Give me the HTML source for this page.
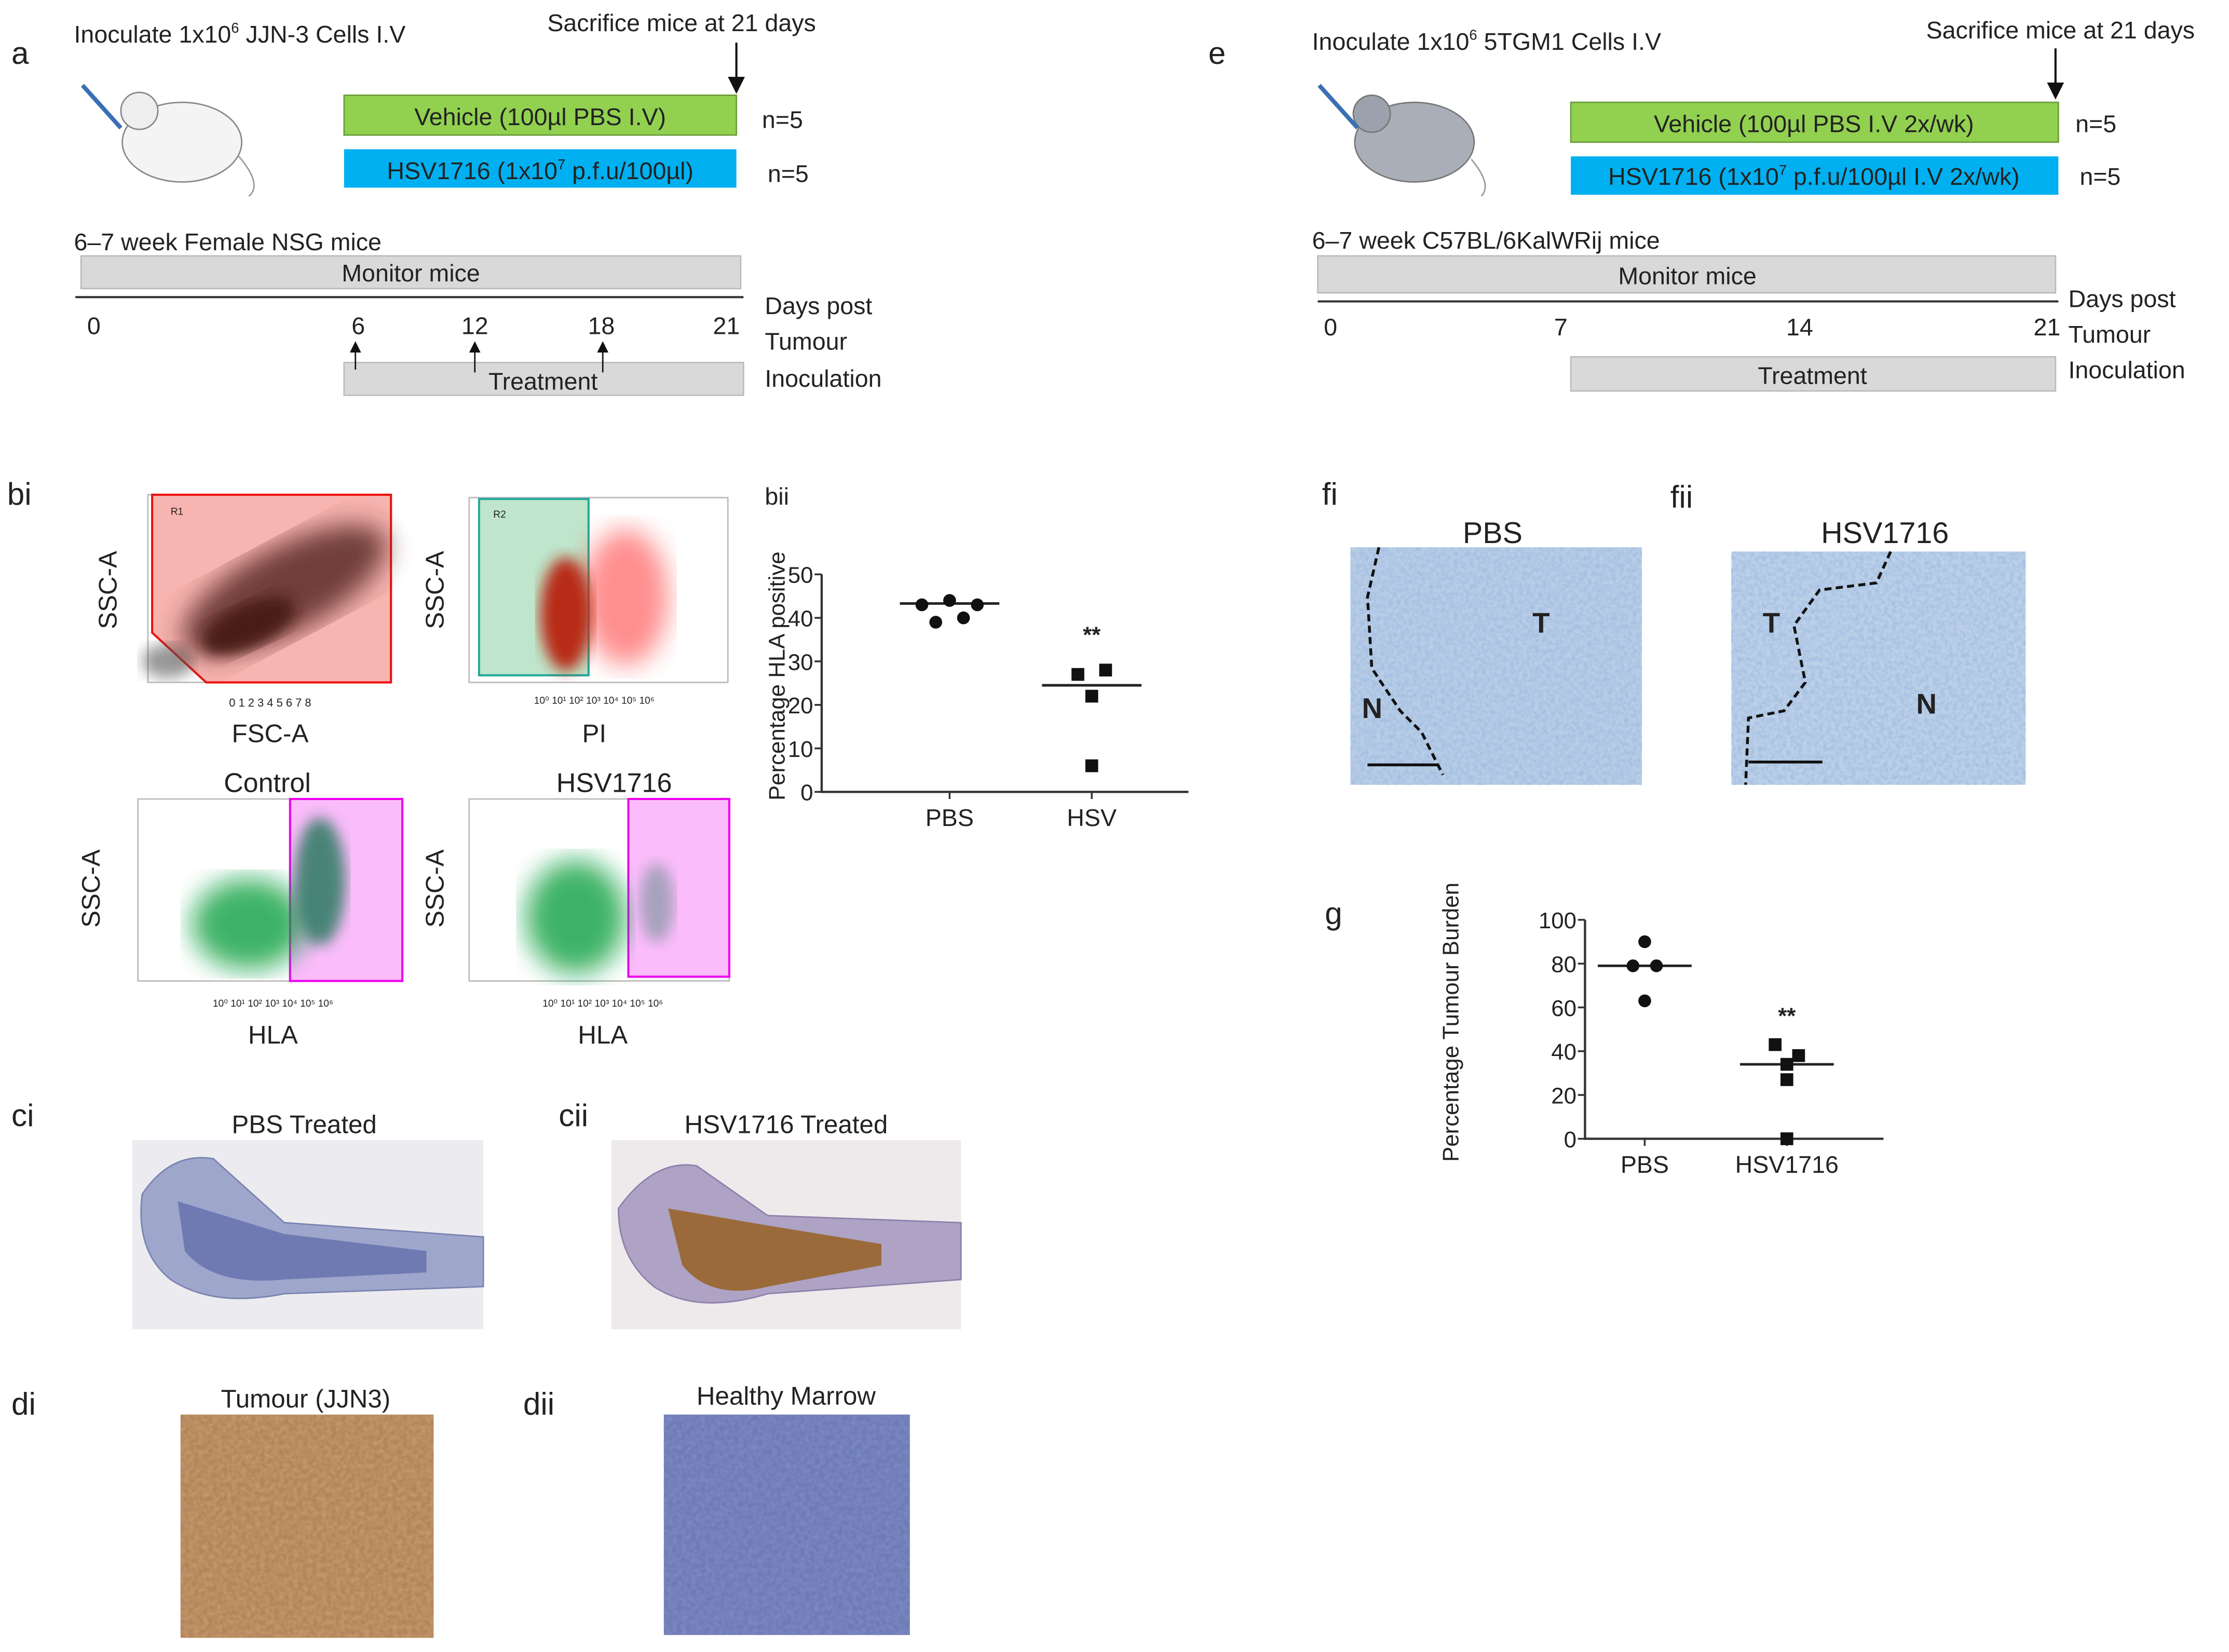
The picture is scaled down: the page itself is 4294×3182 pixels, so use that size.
<!DOCTYPE html>
<html><head><meta charset="utf-8"><style>
html,body{margin:0;padding:0;background:#fff}
svg{display:block}
text{font-family:"Liberation Sans",sans-serif;fill:#222}
</style></head><body>
<svg width="4294" height="3182" viewBox="0 0 1568 1162" xmlns="http://www.w3.org/2000/svg">
<defs>
<filter id="blur4"><feGaussianBlur stdDeviation="5"/></filter>
<filter id="blur8"><feGaussianBlur stdDeviation="9"/></filter>
<filter id="texBlue" x="0" y="0" width="100%" height="100%"><feTurbulence type="fractalNoise" baseFrequency="0.35" numOctaves="2" seed="3"/><feColorMatrix type="matrix" values="0 0 0 0 0.35  0 0 0 0 0.5  0 0 0 0 0.75  0 0 0 -1.6 1.1"/></filter>
<filter id="texBrown" x="0" y="0" width="100%" height="100%"><feTurbulence type="fractalNoise" baseFrequency="0.3" numOctaves="2" seed="7"/><feColorMatrix type="matrix" values="0 0 0 0 0.55  0 0 0 0 0.33  0 0 0 0 0.15  0 0 0 -1.6 1.2"/></filter>
<filter id="texNavy" x="0" y="0" width="100%" height="100%"><feTurbulence type="fractalNoise" baseFrequency="0.3" numOctaves="2" seed="11"/><feColorMatrix type="matrix" values="0 0 0 0 0.2  0 0 0 0 0.25  0 0 0 0 0.55  0 0 0 -1.8 1.3"/></filter>
<marker id="arr" markerWidth="8" markerHeight="8" refX="4" refY="4" orient="auto"><path d="M0,0 L8,4 L0,8 Z" fill="#111"/></marker>
</defs>

<!-- PANEL A -->
<g font-size="17">
<text x="8" y="45" font-size="22">a</text>
<text x="52" y="30">Inoculate 1x10<tspan font-size="10" dy="-7">6</tspan><tspan dy="7"> JJN-3 Cells I.V</tspan></text>
<text x="385" y="22">Sacrifice mice at 21 days</text>
<line x1="518" y1="30" x2="518" y2="60" stroke="#111" stroke-width="1.5" marker-end="url(#arr)"/>
<g><ellipse cx="128" cy="100" rx="42" ry="28" fill="#f4f4f4" stroke="#888"/><circle cx="98" cy="78" r="13" fill="#eee" stroke="#888"/><path d="M168,110 Q185,130 175,138" stroke="#999" fill="none"/><line x1="58" y1="60" x2="85" y2="90" stroke="#3b6fb5" stroke-width="3"/></g>
<rect x="242" y="67" width="276" height="28" fill="#92d050" stroke="#6a9c3a"/>
<text x="380" y="88" text-anchor="middle">Vehicle (100µl PBS I.V)</text>
<text x="536" y="90">n=5</text>
<rect x="242" y="105" width="276" height="27" fill="#00b0f0"/>
<text x="380" y="126" text-anchor="middle">HSV1716 (1x10<tspan font-size="10" dy="-7">7</tspan><tspan dy="7"> p.f.u/100µl)</tspan></text>
<text x="540" y="128">n=5</text>
<text x="52" y="176">6–7 week Female NSG mice</text>
<rect x="57" y="180" width="464" height="23" fill="#d9d9d9" stroke="#bbb"/>
<text x="289" y="198" text-anchor="middle">Monitor mice</text>
<line x1="53" y1="209" x2="523" y2="209" stroke="#333" stroke-width="1.5"/>
<text x="66" y="235" text-anchor="middle">0</text><text x="252" y="235" text-anchor="middle">6</text><text x="334" y="235" text-anchor="middle">12</text><text x="423" y="235" text-anchor="middle">18</text><text x="511" y="235" text-anchor="middle">21</text>
<rect x="242" y="255" width="281" height="23" fill="#d9d9d9" stroke="#bbb"/>
<text x="382" y="274" text-anchor="middle">Treatment</text>
<line x1="250" y1="260" x2="250" y2="244" stroke="#111" marker-end="url(#arr)"/><line x1="334" y1="262" x2="334" y2="244" stroke="#111" marker-end="url(#arr)"/><line x1="424" y1="262" x2="424" y2="244" stroke="#111" marker-end="url(#arr)"/>
<text x="538" y="221">Days post</text><text x="538" y="246">Tumour</text><text x="538" y="272">Inoculation</text>
</g>

<!-- PANEL E -->
<g font-size="17">
<text x="850" y="45" font-size="22">e</text>
<text x="923" y="35">Inoculate 1x10<tspan font-size="10" dy="-7">6</tspan><tspan dy="7"> 5TGM1 Cells I.V</tspan></text>
<text x="1355" y="27">Sacrifice mice at 21 days</text>
<line x1="1446" y1="34" x2="1446" y2="64" stroke="#111" stroke-width="1.5" marker-end="url(#arr)"/>
<g><ellipse cx="995" cy="100" rx="42" ry="28" fill="#a9aeb8" stroke="#777"/><circle cx="965" cy="80" r="13" fill="#9ca2ad" stroke="#777"/><path d="M1035,112 Q1050,130 1042,138" stroke="#999" fill="none"/><line x1="928" y1="60" x2="955" y2="90" stroke="#3b6fb5" stroke-width="3"/></g>
<rect x="1105" y="72" width="343" height="28" fill="#92d050" stroke="#6a9c3a"/>
<text x="1276" y="93" text-anchor="middle">Vehicle (100µl PBS I.V 2x/wk)</text>
<text x="1460" y="93">n=5</text>
<rect x="1105" y="110" width="343" height="27" fill="#00b0f0"/>
<text x="1276" y="130" text-anchor="middle">HSV1716 (1x10<tspan font-size="10" dy="-7">7</tspan><tspan dy="7"> p.f.u/100µl I.V 2x/wk)</tspan></text>
<text x="1463" y="130">n=5</text>
<text x="923" y="175">6–7 week C57BL/6KalWRij mice</text>
<rect x="927" y="180" width="519" height="26" fill="#d9d9d9" stroke="#bbb"/>
<text x="1187" y="200" text-anchor="middle">Monitor mice</text>
<line x1="927" y1="212" x2="1448" y2="212" stroke="#333" stroke-width="1.5"/>
<text x="936" y="236" text-anchor="middle">0</text><text x="1098" y="236" text-anchor="middle">7</text><text x="1266" y="236" text-anchor="middle">14</text><text x="1440" y="236" text-anchor="middle">21</text>
<rect x="1105" y="251" width="341" height="24" fill="#d9d9d9" stroke="#bbb"/>
<text x="1275" y="270" text-anchor="middle">Treatment</text>
<text x="1455" y="216">Days post</text><text x="1455" y="241">Tumour</text><text x="1455" y="266">Inoculation</text>
</g>

<!-- PANEL BI flow plots -->
<g>
<text x="5" y="355" font-size="22">bi</text>
<rect x="104" y="348" width="171" height="132" fill="#fff" stroke="#bbb"/>
<polygon points="107,348 275,348 275,480 145,480 107,445" fill="#f8b4b0" stroke="#e11" stroke-width="1.5"/>
<ellipse cx="118" cy="465" rx="18" ry="12" fill="#555" opacity="0.6" filter="url(#blur4)"/>
<ellipse cx="200" cy="415" rx="80" ry="30" transform="rotate(-28 200 415)" fill="#5a2a28" opacity="0.85" filter="url(#blur8)"/>
<ellipse cx="175" cy="440" rx="35" ry="15" transform="rotate(-25 175 440)" fill="#4a1a18" filter="url(#blur4)"/>
<text x="120" y="362" font-size="7" fill="#e11">R1</text>
<text x="190" y="497" font-size="8" text-anchor="middle" fill="#666">0  1  2  3  4  5  6  7  8</text>
<text x="190" y="522" font-size="18" text-anchor="middle">FSC-A</text>
<text transform="translate(82 415) rotate(-90)" font-size="18" text-anchor="middle">SSC-A</text>
<rect x="330" y="350" width="182" height="130" fill="#fff" stroke="#bbb"/>
<rect x="337" y="351" width="77" height="124" fill="#bfe6cc" stroke="#2a9" stroke-width="1.5"/>
<ellipse cx="440" cy="420" rx="30" ry="48" fill="#f33" opacity="0.55" filter="url(#blur8)"/>
<ellipse cx="398" cy="432" rx="18" ry="40" fill="#b8220c" opacity="0.95" filter="url(#blur4)"/>
<text x="347" y="364" font-size="7" fill="#2a9">R2</text>
<text x="418" y="495" font-size="7" text-anchor="middle" fill="#666">10⁰   10¹   10²   10³   10⁴   10⁵   10⁶</text>
<text x="418" y="522" font-size="18" text-anchor="middle">PI</text>
<text transform="translate(312 415) rotate(-90)" font-size="18" text-anchor="middle">SSC-A</text>
<text x="188" y="557" font-size="19" text-anchor="middle">Control</text>
<rect x="97" y="562" width="186" height="128" fill="#fff" stroke="#bbb"/>
<rect x="204" y="562" width="79" height="128" fill="#fbbcfb" stroke="#e0e" stroke-width="1.5"/>
<ellipse cx="175" cy="650" rx="40" ry="32" fill="#10a040" opacity="0.8" filter="url(#blur8)"/>
<ellipse cx="225" cy="620" rx="18" ry="45" fill="#2a7a60" opacity="0.85" filter="url(#blur4)"/>
<text x="192" y="708" font-size="7" text-anchor="middle" fill="#666">10⁰   10¹   10²   10³   10⁴   10⁵   10⁶</text>
<text x="192" y="734" font-size="18" text-anchor="middle">HLA</text>
<text transform="translate(70 625) rotate(-90)" font-size="18" text-anchor="middle">SSC-A</text>
<text x="432" y="557" font-size="19" text-anchor="middle">HSV1716</text>
<rect x="330" y="562" width="183" height="128" fill="#fff" stroke="#bbb"/>
<rect x="442" y="562" width="71" height="125" fill="#fbbcfb" stroke="#e0e" stroke-width="1.5"/>
<ellipse cx="405" cy="645" rx="35" ry="40" fill="#10a040" opacity="0.8" filter="url(#blur8)"/>
<ellipse cx="462" cy="635" rx="12" ry="28" fill="#2a7a60" opacity="0.4" filter="url(#blur4)"/>
<text x="424" y="708" font-size="7" text-anchor="middle" fill="#666">10⁰   10¹   10²   10³   10⁴   10⁵   10⁶</text>
<text x="424" y="734" font-size="18" text-anchor="middle">HLA</text>
<text transform="translate(312 625) rotate(-90)" font-size="18" text-anchor="middle">SSC-A</text>
</g>

<text x="538" y="355" font-size="17">bii</text>
<g id="chartB"></g>

<!-- PANEL F -->
<g>
<text x="930" y="355" font-size="22">fi</text>
<text x="1050" y="382" font-size="21" text-anchor="middle">PBS</text>
<rect x="950" y="385" width="205" height="167" fill="#b8cde6"/>
<rect x="950" y="385" width="205" height="167" filter="url(#texBlue)"/>
<path d="M970,385 L962,420 L965,470 L985,500 L1000,515 L1015,545" stroke="#111" stroke-width="2" stroke-dasharray="5,3" fill="none"/>
<line x1="962" y1="538" x2="1012" y2="538" stroke="#111" stroke-width="2"/>
<text x="1078" y="445" font-size="20" font-weight="bold" fill="#111">T</text>
<text x="958" y="505" font-size="20" font-weight="bold" fill="#111">N</text>
<text x="1175" y="357" font-size="22">fii</text>
<text x="1326" y="382" font-size="21" text-anchor="middle">HSV1716</text>
<rect x="1218" y="388" width="207" height="164" fill="#bcd0e8"/>
<rect x="1218" y="388" width="207" height="164" filter="url(#texBlue)"/>
<path d="M1330,388 L1320,410 L1280,415 L1262,440 L1270,480 L1255,500 L1230,505 L1228,552" stroke="#111" stroke-width="2" stroke-dasharray="5,3" fill="none"/>
<line x1="1230" y1="536" x2="1282" y2="536" stroke="#111" stroke-width="2"/>
<text x="1240" y="445" font-size="20" font-weight="bold" fill="#111">T</text>
<text x="1348" y="502" font-size="20" font-weight="bold" fill="#111">N</text>
</g>

<text x="932" y="650" font-size="22">g</text>
<g id="chartG"></g>

<!-- PANEL C -->
<g>
<text x="8" y="792" font-size="22">ci</text>
<text x="214" y="797" font-size="18" text-anchor="middle">PBS Treated</text>
<rect x="93" y="802" width="247" height="133" fill="#ececf0"/>
<path d="M100,840 Q120,810 150,815 L200,860 L340,870 L340,905 L200,910 Q150,920 120,900 Q95,880 100,840Z" fill="#9ea6cc" stroke="#7a82b0"/>
<path d="M125,845 L200,868 L300,880 L300,895 L200,900 Q150,905 130,880Z" fill="#6f7ab3"/>
<text x="393" y="792" font-size="22">cii</text>
<text x="553" y="797" font-size="18" text-anchor="middle">HSV1716 Treated</text>
<rect x="430" y="802" width="246" height="133" fill="#eeeaec"/>
<path d="M435,850 Q460,815 490,820 L540,855 L676,860 L676,900 L540,910 Q490,925 460,905 Q435,885 435,850Z" fill="#aea3c4" stroke="#8a80aa"/>
<path d="M470,850 L540,862 L620,875 L620,890 L540,905 Q500,915 480,890Z" fill="#9a6a3a"/>
</g>

<!-- PANEL D -->
<g>
<text x="8" y="995" font-size="22">di</text>
<text x="215" y="990" font-size="18" text-anchor="middle">Tumour (JJN3)</text>
<rect x="127" y="995" width="178" height="157" fill="#b3835a"/>
<rect x="127" y="995" width="178" height="157" filter="url(#texBrown)"/>
<text x="368" y="995" font-size="22">dii</text>
<text x="553" y="988" font-size="18" text-anchor="middle">Healthy Marrow</text>
<rect x="467" y="995" width="173" height="155" fill="#6e7bb3"/>
<rect x="467" y="995" width="173" height="155" filter="url(#texNavy)"/>
</g>
</svg>
<script>
// ---- chart bii data ----
const bCategories = ["PBS", "HSV"];
const bPBS = [43, 44, 43, 39, 40];
const bHSV = [27, 28, 22, 6];
const bMeans = [43.3, 24.5];
const bTicks = [0, 10, 20, 30, 40, 50];
const bOffsets = [-0.3, 0, 0.3, -0.15, 0.15];
const bHsvOffsets = [-0.15, 0.15, 0, 0];
// ---- chart g data ----
const gCategories = ["PBS", "HSV1716"];
const gPBS = [90, 79, 79, 63];
const gHSV = [43, 38, 34, 27, 0];
const gMeans = [79, 34];
const gTicks = [0, 20, 40, 60, 80, 100];
const gPbsOffsets = [0, -0.15, 0.15, 0];
const gHsvOffsets = [-0.15, 0.15, 0, 0, 0];

const NS = "http://www.w3.org/2000/svg";
function mk(parent, tag, attrs){const e=document.createElementNS(NS,tag);for(const k in attrs)e.setAttribute(k,attrs[k]);parent.appendChild(e);return e;}

function drawChart(g, o){
  const y = v => o.y0 - (v - o.min) / (o.max - o.min) * (o.y0 - o.y1);
  const x = (i, off) => o.cx[i] + off * o.jitter;
  let ax = mk(g,'path',{d:`M${o.ax},${y(o.max)} L${o.ax},${o.y0} L${o.xEnd},${o.y0}`,stroke:'#333','stroke-width':1.6,fill:'none'});
  
  
  o.ticks.forEach(t=>{
    mk(g,'line',{x1:o.ax-5,x2:o.ax,y1:y(t),y2:y(t),stroke:'#333','stroke-width':1.3});
    const tx=mk(g,'text',{x:o.ax-6,y:y(t)+6,'font-size':o.tickFont,'text-anchor':'end'});
    tx.textContent=t;
    
    
  });
  o.cats.forEach((c,i)=>{
    mk(g,'line',{x1:o.cx[i],x2:o.cx[i],y1:o.y0,y2:o.y0+5,stroke:'#333','stroke-width':1.3});
    const tx=mk(g,'text',{x:o.cx[i],y:o.y0+24,'font-size':17,'text-anchor':'middle'});
    tx.textContent=c;
    
    
  });
  o.means.forEach((m,i)=>{
    const l=mk(g,'line',{x1:o.cx[i]-o.meanW,x2:o.cx[i]+o.meanW,y1:y(m),y2:y(m),stroke:'#222','stroke-width':1.8});
    
    
  });
  o.s0.forEach((v,j)=>{
    const c=mk(g,'circle',{cx:x(0,o.off0[j]),cy:y(v),r:4.5,fill:'#111'});
    
    
  });
  o.s1.forEach((v,j)=>{
    const r=mk(g,'rect',{x:x(1,o.off1[j])-4.5,y:y(v)-4.5,width:9,height:9,fill:'#111'});
    
    
  });
  const st=mk(g,'text',{x:o.cx[1],y:o.starY,'font-size':16,'text-anchor':'middle','font-weight':'bold'});
  st.textContent='**';
  
  
  const yt=mk(g,'text',{transform:`translate(${o.titleX} ${(o.y0+o.y1)/2 + o.titleShift}) rotate(-90)`,'font-size':16,'text-anchor':'middle'});
  yt.textContent=o.title;
  
  
}
drawChart(document.getElementById('chartB'),{min:0,max:50,y0:557,y1:404,ax:578,xEnd:836,cx:[668,768],jitter:65,tickFont:16,
  ticks:bTicks,cats:bCategories,means:bMeans,meanW:35,s0:bPBS,s1:bHSV,off0:bOffsets,off1:bHsvOffsets,starY:452,
  title:'Percentage HLA positive',titleX:552,titleShift:-5});
drawChart(document.getElementById('chartG'),{min:0,max:100,y0:801,y1:647,ax:1115,xEnd:1325,cx:[1157,1257],jitter:55,tickFont:16,
  ticks:gTicks,cats:gCategories,means:gMeans,meanW:33,s0:gPBS,s1:gHSV,off0:gPbsOffsets,off1:gHsvOffsets,starY:720,
  title:'Percentage Tumour Burden',titleX:1026,titleShift:-5});
</script>
</body></html>
